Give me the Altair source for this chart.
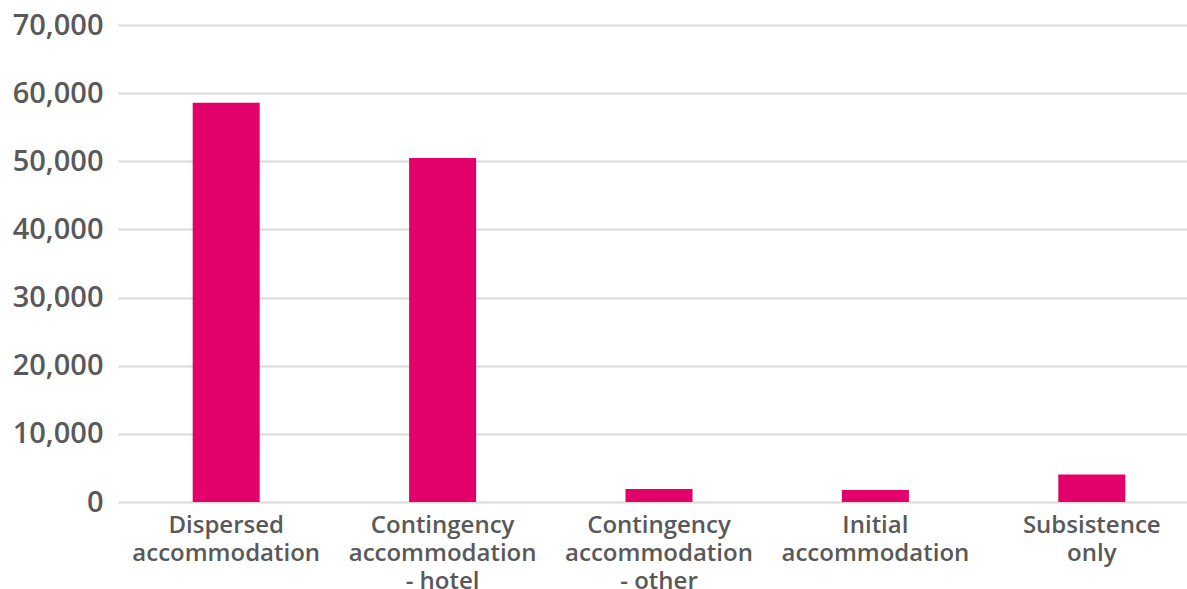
import altair as alt
import pandas as pd

categories = [
    "Dispersed\naccommodation",
    "Contingency\naccommodation\n- hotel",
    "Contingency\naccommodation\n- other",
    "Initial\naccommodation",
    "Subsistence\nonly",
]
values = [58600, 50500, 1900, 1750, 4050]

df = pd.DataFrame({"category": categories, "value": values})

chart = (
    alt.Chart(df)
    .mark_bar(color="#E4006A", size=67)
    .encode(
        x=alt.X(
            "category:N",
            sort=None,
            title=None,
            scale=alt.Scale(paddingInner=0.69, paddingOuter=0.345, range=[0, 1082]),
            axis=alt.Axis(
                labelAngle=0,
                labelExpr="split(datum.label, '\\n')",
                labelFont="Open Sans",
                labelFontSize=24,
                labelFontWeight=600,
                labelColor="#595959",
                labelLineHeight=28,
                labelPadding=11,
                labelLimit=0,
                ticks=False,
                domain=False,
                grid=False,
            ),
        ),
        y=alt.Y(
            "value:Q",
            title=None,
            scale=alt.Scale(domain=[0, 70000], nice=False),
            axis=alt.Axis(
                values=[0, 10000, 20000, 30000, 40000, 50000, 60000, 70000],
                format=",.0f",
                labelFont="Open Sans",
                labelFontSize=29,
                labelFontWeight=600,
                labelColor="#595959",
                labelPadding=15,
                ticks=False,
                domain=False,
                grid=True,
                gridColor="#D9D9D9",
                gridWidth=2,
            ),
        ),
    )
    .properties(
        width=1069,
        height=477,
        background="white",
        autosize=alt.AutoSizeParams(type="none"),
        padding={"left": 118, "top": 25, "right": 0, "bottom": 87},
    )
    .configure_view(stroke="transparent", strokeWidth=0)
)

chart.save("out.html", embed_options={"renderer": "svg", "actions": False})
